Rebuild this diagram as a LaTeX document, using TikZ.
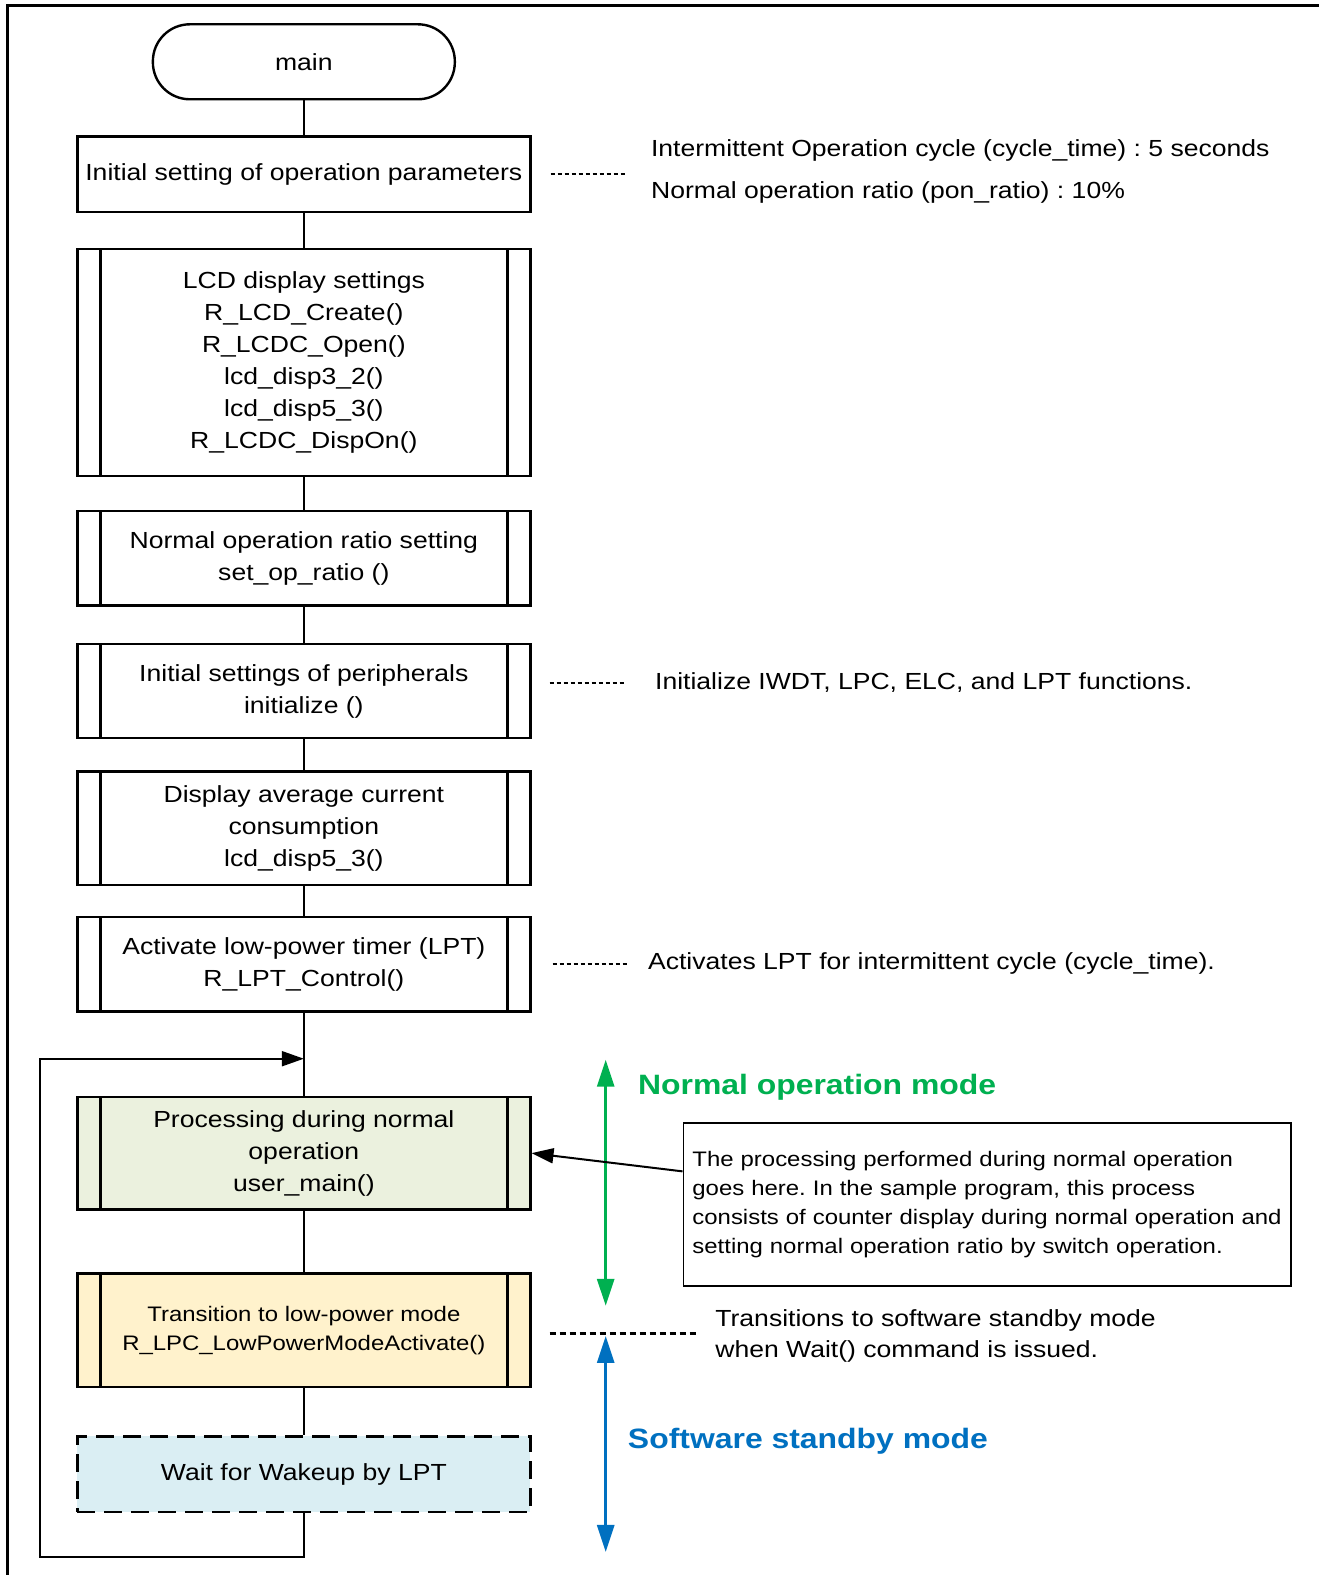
\documentclass[tikz,border=0pt]{standalone}
\usepackage{fontspec}
\setmainfont{Liberation Sans}[FakeStretch=1.14]
\usetikzlibrary{arrows.meta}
\definecolor{gfill}{HTML}{EBF1DE}
\definecolor{yfill}{HTML}{FFF2CC}
\definecolor{bfill}{HTML}{DAEEF3}
\definecolor{modegreen}{HTML}{00B050}
\definecolor{modeblue}{HTML}{0070C0}
\newcommand\fsmain{\fontsize{23.3}{32}\selectfont}
\newcommand\fssmall{\fontsize{21}{29}\selectfont}
\newcommand\fsmode{\fontsize{28}{34}\selectfont\bfseries}
\frenchspacing
\begin{document}
\begin{tikzpicture}[x=1.0046pt,y=-1.0046pt,
  term/.style={draw, line width=2.4pt, minimum width=302pt, minimum height=75pt, rounded corners=37pt, font=\fsmain},
  box/.style={draw, line width=2.4pt, minimum width=453pt, inner sep=0pt, align=center, font=\fsmain},
  sub/.style={box, path picture={
     \draw[line width=2.4pt] ([xshift=23pt]path picture bounding box.north west) -- ([xshift=23pt]path picture bounding box.south west);
     \draw[line width=2.4pt] ([xshift=-23pt]path picture bounding box.north east) -- ([xshift=-23pt]path picture bounding box.south east);}},
  conn/.style={line width=2pt},
  ann/.style={anchor=west, inner sep=0pt, align=left, font=\fsmain},
  dotline/.style={line width=2pt, dash pattern=on 4pt off 3pt},
  tip/.style={-{Triangle[length=22pt,width=15pt]}},
  modearrow/.style={line width=3pt, {Triangle[length=27pt,width=17pt]}-{Triangle[length=27pt,width=17pt]}}
]
\useasboundingbox (0,0) rectangle (1313,1568);
% frame
\draw[line width=3pt] (7,1570) -- (7,5) -- (1315,5);

% flowchart
\node[term] (main) at (302.5,61.5) {main};
\node[box, minimum height=75.3pt] (b1) at (302.5,173.5) {Initial setting of operation parameters};
\node[sub, minimum height=227pt] (b2) at (302.5,361) {LCD display settings\\R\_LCD\_Create()\\R\_LCDC\_Open()\\lcd\_disp3\_2()\\lcd\_disp5\_3()\\R\_LCDC\_DispOn()};
\node[sub, minimum height=94.4pt] (b3) at (302.5,556) {Normal operation ratio setting\\set\_op\_ratio ()};
\node[sub, minimum height=94.4pt] (b4) at (302.5,688) {Initial settings of peripherals\\initialize ()};
\node[sub, minimum height=113.5pt] (b5) at (302.5,824.5) {Display average current\\consumption\\lcd\_disp5\_3()};
\node[sub, minimum height=94.4pt] (b6) at (302.5,960) {Activate low-power timer (LPT)\\R\_LPT\_Control()};
\node[sub, fill=gfill, minimum height=112.5pt] (b7) at (302.5,1148) {Processing during normal\\operation\\user\_main()};
\node[sub, fill=yfill, minimum height=113.5pt, font=\fssmall] (b8) at (302.5,1324.5) {Transition to low-power mode\\R\_LPC\_LowPowerModeActivate()};
\node[box, fill=bfill, dash pattern=on 18pt off 9pt, minimum height=75.3pt] (b9) at (302.5,1467.5) {Wait for Wakeup by LPT};

\draw[conn] (main) -- (b1);
\draw[conn] (b1) -- (b2);
\draw[conn] (b2) -- (b3);
\draw[conn] (b3) -- (b4);
\draw[conn] (b4) -- (b5);
\draw[conn] (b5) -- (b6);
\draw[conn] (b6) -- (b7);
\draw[conn] (b7) -- (b8);
\draw[conn] (b8) -- (b9);

% loop back
\coordinate (lb) at (302.5,1550);
\coordinate (ll) at (40,1550);
\coordinate (lt) at (40,1054);
\coordinate (lin) at (302.5,1054);
\draw[conn, tip] (b9.south) -- (lb) -- (ll) -- (lt) -- (lin);

% annotations
\node[ann, font=\fontsize{23.3}{42}\selectfont] (a1) at (648,171) {Intermittent Operation cycle (cycle\_time) : 5 seconds\\Normal operation ratio (pon\_ratio) : 10\%};
\draw[dotline] ([xshift=19pt]b1.east) -- ([xshift=-24pt]b1.east -| a1.west);

\node[ann] (a2) at (652,680) {Initialize IWDT, LPC, ELC, and LPT functions.};
\draw[dotline] ([xshift=18pt]b4.east |- a2.west) -- ([xshift=-29pt]a2.west);

\node[ann] (a3) at (645,959.5) {Activates LPT for intermittent cycle (cycle\_time).};
\draw[dotline] ([xshift=21pt]b6.east |- a3.west) -- ([xshift=-19pt]a3.west);

\node[ann, font=\fontsize{23.3}{31}\selectfont] (a4) at (712,1330) {Transitions to software standby mode\\when Wait() command is issued.};
\draw[line width=3pt, dash pattern=on 6pt off 4pt] ([xshift=18pt]b8.east |- 0,1328) -- ([xshift=-16pt]a4.west |- 0,1328);

% modes
\coordinate (g1) at (603,1055);
\coordinate (g2) at (603,1300);
\coordinate (s1) at (603,1330);
\coordinate (s2) at (603,1545);
\draw[modearrow, draw=modegreen, fill=modegreen] (g1) -- (g2);
\draw[modearrow, draw=modeblue, fill=modeblue] (s1) -- (s2);
\node[anchor=west, inner sep=0pt, text=modegreen, font=\fsmode] (nm) at (635,1082) {Normal operation mode};
\node[anchor=west, inner sep=0pt, text=modeblue, font=\fsmode] (sm) at (625,1435) {Software standby mode};

% note
\node[draw, line width=1.8pt, fill=white, inner xsep=9pt, text width=590pt, minimum height=163pt, align=left, font=\fssmall] (note) at (983,1199)
  {The processing performed during normal operation\\goes here. In the sample program, this process\\consists of counter display during normal operation and\\setting normal operation ratio by switch operation.};
\draw[conn, -{Triangle[length=22pt,width=15pt]}] ([yshift=33pt]note.west) -- (b7.east);
\end{tikzpicture}
\end{document}
